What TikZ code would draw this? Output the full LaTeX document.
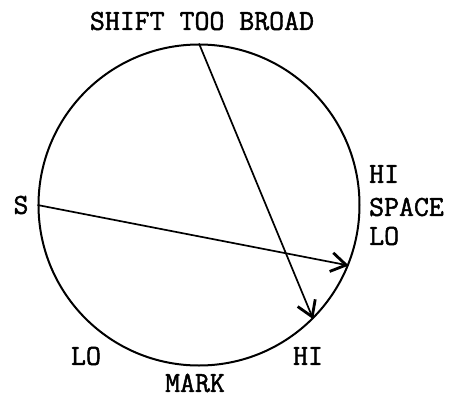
\documentclass[tikz,border=0pt]{standalone}
\usepackage{fontspec}
\newfontfamily\typefont{Latin Modern Mono}[AutoFakeBold=1.6]
\usetikzlibrary{arrows.meta}

\newcommand*{\dialr}{321pt}

\begin{document}
\begin{tikzpicture}
[
	x=1pt,
	y=-1pt,
	dial/.style={circle,draw,line width=2pt,inner sep=0pt,minimum size=\dialr},
	shiftarrow/.style={line width=1.7pt,-{Straight Barb[length=15pt,width=19pt,line width=2.8pt]}},
	lbl/.style={inner sep=0pt,font=\fontsize{29}{31}\selectfont\typefont\bfseries}
]

	\useasboundingbox (0,0) rectangle (453,397);

	% circle
	\node[dial] at (199,205) (ring) {};

	% arrows
	\draw[shiftarrow] (ring.180) -- (ring.-22);
	\draw[shiftarrow] (ring.90) -- (ring.-45);

	% labels
	\node[lbl] at (202,21) (title) {SHIFT TOO BROAD};
	\node[lbl] at (21,205) (s) {S};
	\node[lbl,anchor=west] at (369,174) (spacehi) {HI};
	\node[lbl,anchor=west] at (369,207) (space) {SPACE};
	\node[lbl,anchor=west] at (369,236) (spacelo) {LO};
	\node[lbl] at (86,356) (marklo) {LO};
	\node[lbl] at (308,356) (markhi) {HI};
	\node[lbl] at (195,383) (mark) {MARK};

\end{tikzpicture}
\end{document}
